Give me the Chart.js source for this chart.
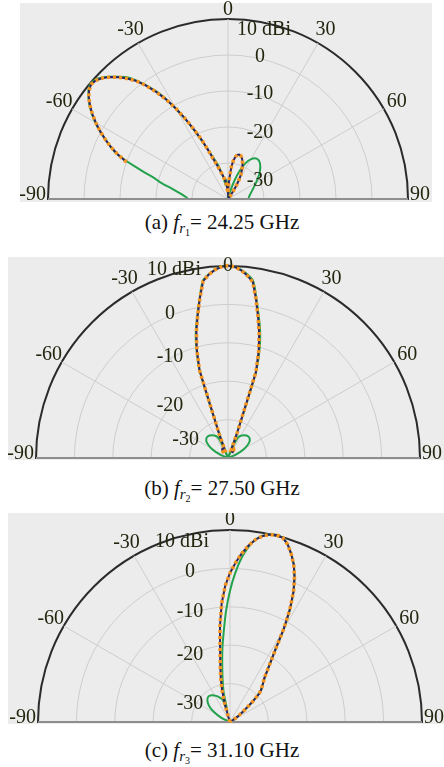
<!DOCTYPE html>
<html>
<head>
<meta charset="utf-8">
<title>Radiation patterns</title>
<script src="https://cdn.jsdelivr.net/npm/chart.js@4.4.1/dist/chart.umd.min.js"></script>
<style>
  html, body { margin: 0; padding: 0; background: #fff; }
  body { position: relative; width: 444px; height: 767px; overflow: hidden; font-family: "Liberation Serif", "DejaVu Serif", "Times New Roman", Times, serif; }
  .bg { position: absolute; background: #ececec; }
  .clip { position: absolute; left: 0; width: 444px; overflow: hidden; }
  .clip canvas { position: absolute; left: 0; top: 0; }
  .cap { position: absolute; left: 0; width: 444px; text-align: center; font-size: 21px; line-height: 24px; color: #111; white-space: nowrap; }
  .cap sub { font-size: 15px; vertical-align: -4px; line-height: 0; }
  .cap sub sub { font-size: 10px; vertical-align: -3px; }
</style>
</head>
<body>
<div class="bg" style="left:20px;top:3px;width:412px;height:199px"></div>
<div class="bg" style="left:8px;top:257px;width:436px;height:203px"></div>
<div class="bg" style="left:8px;top:513px;width:436px;height:211px"></div>
<div class="clip" style="top:0;height:200px"><canvas id="patA"></canvas></div>
<div class="clip" style="top:257px;height:202px"><canvas id="patB"></canvas></div>
<div class="clip" style="top:513px;height:210px"><canvas id="patC"></canvas></div>
<div class="cap" style="top:210px">(a) <i>f</i><sub><i>r</i><sub>1</sub></sub>= 24.25 GHz</div>
<div class="cap" style="top:476px">(b) <i>f</i><sub><i>r</i><sub>2</sub></sub>= 27.50 GHz</div>
<div class="cap" style="top:738px">(c) <i>f</i><sub><i>r</i><sub>3</sub></sub>= 31.10 GHz</div>
<script>
// radial ticks (dBi) and angle ticks (deg)
const radialTicks = [10, 0, -10, -20, -30];
const angleTicks = [-90, -60, -30, 0, 30, 60, 90];

// (a) 24.25 GHz
const simAngA = [-90, -88, -84, -80, -76, -74, -72, -68, -64, -60, -56, -52, -50, -48, -46, -44, -40, -38, -34, -32,
  -28, -24, -20, -16, -12, -10, -8, -4, -2, 0, 4, 10, 16, 18, 20, 22, 26, 30, 36, 42, 50, 58, 66, 74, 82, 90];
const simGainA = [-29, -28.5, -27, -24.5, -20.5, -18.5, -15, -6.8, -2, 2.6, 6.4, 9.2, 9.8, 9.6, 8.6, 7.2, 4.2, 2, -3.5, -7,
  -15, -22.5, -27.5, -30.5, -34, -36, -34.5, -35, -37, -39, -40, -40, -38, -36, -34, -32, -29, -27.2, -26.2, -26.7, -28.5, -30.6, -32.2, -33.3, -34, -34.5];
const measAngA = [-70, -68, -66, -64, -62, -60, -58, -56, -54, -52, -50, -48, -46, -44, -42, -40, -38, -36, -34, -32,
  -30, -28, -26, -24, -22, -20, -18, -16, -14, -12, -10, -8, -6, -4, -2, 0, 2, 4, 6, 8,
  10, 12, 14, 16, 18, 20, 22, 24, 26, 28, 30, 32, 34, 36, 38, 40];
const measGainA = [-10, -7, -4.3, -2, 0.3, 2.4, 4.4, 6.2, 7.8, 9, 9.6, 9.3, 8.4, 7.1, 5.5, 3.7, 1.7, -0.9, -4, -7.2,
  -10.8, -14.8, -18.6, -22, -25.5, -28.3, -30, -31.5, -32.6, -33.5, -34.3, -35, -36, -37, -37.8, -38.4, -37, -34, -31, -29.2,
  -28.1, -27.5, -27.3, -27.4, -27.8, -28.4, -29.2, -30.2, -31.3, -32.4, -34, -35.8, -37.5, -38.8, -39.6, -40];

// (b) 27.50 GHz
const simAngB = [-90, -72, -66, -60, -54, -48, -42, -36, -30, -26, -24, -22, -20, -18, -16, -14, -12, -10, -8, -6,
  -4, -2, 0, 2, 4, 6, 8, 10, 12, 14, 16, 18, 20, 22, 24, 26, 30, 36, 42, 48, 54, 60, 66, 72, 90];
const simGainB = [-40, -40, -37.5, -35, -33.2, -32.4, -32.3, -32.7, -33.3, -34, -35.5, -40, -34, -16.5, -10, -5.5, -1.8, 2.4, 6.7, 8.1,
  9.1, 9.8, 10.1, 9.8, 9.1, 8.1, 6.7, 2.4, -1.8, -5.5, -10, -16.5, -34, -40, -35.5, -34, -33.3, -32.7, -32.3, -32.4, -33.2, -35, -37.5, -40, -40];
const measAngB = [-40, -38, -36, -34, -32, -30, -28, -26, -24, -22, -20, -18, -16, -14, -12, -10, -8, -6, -4, -2,
  0, 2, 4, 6, 8, 10, 12, 14, 16, 18, 20, 22, 24, 26, 28, 30, 32, 34, 36, 38, 40];
const measGainB = [-38.3, -37.8, -37.5, -37.3, -37.2, -37.3, -37.5, -37.8, -38, -38, -33, -16, -10.5, -6, -2, 2.2, 6.5, 8, 9.1, 9.8,
  10.1, 9.8, 9, 7.8, 6.3, 2, -2.4, -6.5, -11, -16.5, -33, -38, -38, -37.8, -37.5, -37.3, -37.2, -37.3, -37.5, -37.8, -38.3];

// (c) 31.10 GHz
const simAngC = [-90, -70, -64, -58, -52, -46, -40, -34, -28, -22, -18, -14, -12, -10, -8, -6, -4, -2, 0, 2,
  4, 6, 8, 10, 12, 14, 16, 18, 20, 22, 24, 26, 28, 30, 32, 36, 40, 44, 48, 52, 56, 60, 90];
const simGainC = [-40, -40, -37.5, -35, -33, -31.8, -31.3, -31.6, -32.3, -33.2, -34, -37, -32, -29, -25.5, -21, -16.5, -11, -5.8, -1.2,
  2.8, 5.8, 8, 9.3, 10, 10.2, 9.9, 8.6, 6.6, 4.3, 1.3, -2.3, -6.8, -12, -17.5, -23.5, -26.5, -28.3, -32, -36, -38.3, -40, -40];
const measAngC = [-20, -18, -16, -14, -12, -10, -8, -6, -4, -2, 0, 2, 4, 6, 8, 10, 12, 14, 16, 18,
  20, 22, 24, 26, 28, 30, 32, 34, 36, 38, 40, 42, 44, 46, 48, 50, 52, 54, 56, 58, 60];
const measGainC = [-40, -38.5, -35, -31.5, -28.5, -25.5, -21.5, -15, -9, -4.5, -1.2, 1.5, 4, 6.2, 8, 9.2, 9.9, 10.2, 9.9, 8.6,
  6.6, 4.3, 1.3, -2.3, -6.8, -12, -17.5, -21, -23.5, -25.5, -26.5, -27.5, -28.3, -29.5, -32, -34.5, -36, -37.3, -38.3, -39.2, -40];

// radar spokes every 2 degrees, index 0 = boresight, clockwise
const ringLabels = [];
for (let i = 0; i < 180; i++) {
  const a = i * 2;
  ringLabels.push(a <= 180 ? a : a - 360);
}

function onRing(angles, gains) {
  const out = ringLabels.map(() => null);
  angles.forEach((a, k) => { out[ringLabels.indexOf(a)] = gains[k]; });
  return out;
}

const textColor = '#23260f';
const labelFont = '20px "Liberation Serif", "DejaVu Serif", "Times New Roman", serif';

const polarText = {
  id: 'polarText',
  // baseline goes over the traces so the closing chord of a loop never shows
  beforeDatasetDraw(chart, args) {
    if (args.index !== 0) return;
    const s = chart.scales.r;
    const ctx = chart.ctx;
    const p1 = s.getPointPosition(ringLabels.indexOf(-90), s.drawingArea);
    const p2 = s.getPointPosition(ringLabels.indexOf(90), s.drawingArea);
    ctx.save();
    ctx.strokeStyle = '#8e8e8e';
    ctx.lineWidth = 2;
    ctx.beginPath();
    ctx.moveTo(p1.x, s.yCenter);
    ctx.lineTo(p2.x, s.yCenter);
    ctx.stroke();
    ctx.restore();
  },
  afterDraw(chart, args, opts) {
    const s = chart.scales.r;
    const ctx = chart.ctx;
    const R = s.drawingArea;
    const cx = s.xCenter, cy = s.yCenter;
    ctx.save();
    ctx.font = labelFont;
    ctx.fillStyle = textColor;

    angleTicks.forEach(a => {
      const idx = ringLabels.indexOf(a);
      if (Math.abs(a) === 90) {
        const p = s.getPointPosition(idx, R + 2);
        ctx.textAlign = a < 0 ? 'right' : 'left';
        ctx.textBaseline = 'alphabetic';
        ctx.fillText(String(a), p.x, cy + 1);
      } else {
        const p = s.getPointPosition(idx, R + (a === 0 ? opts.zeroGap : 15));
        ctx.textAlign = 'center';
        ctx.textBaseline = 'middle';
        ctx.fillText(String(a), p.x, p.y);
      }
    });

    ctx.textAlign = 'center';
    ctx.textBaseline = 'middle';
    radialTicks.forEach(v => {
      const r = s.getDistanceFromCenterForValue(v);
      if (v === s.max) {
        const dx = opts.outerDx;
        const y = cy - Math.sqrt(r * r - dx * dx) + opts.outerDy;
        ctx.fillText(v + ' dBi', cx + dx, y);
      } else {
        const dx = Math.sign(opts.tickDx) * Math.min(Math.abs(opts.tickDx), r + 4);
        const h = Math.sqrt(Math.max(r * r - dx * dx, 0));
        ctx.fillText(String(v), cx + dx, cy - Math.max(h + 2, 18));
      }
    });
    ctx.restore();
  }
};

function drawPattern(id, panel, simAng, simGain, measAng, measGain) {
  const canvas = document.getElementById(id);
  const h = panel.cy + panel.R + 20;
  canvas.width = 444;
  canvas.height = h;
  canvas.style.width = '444px';
  canvas.style.height = h + 'px';
  const measured = onRing(measAng, measGain);

  new Chart(canvas, {
    type: 'radar',
    data: {
      labels: ringLabels,
      datasets: [
        {
          label: 'Measured',
          data: measured,
          borderColor: '#f5961f',
          borderWidth: 3.6,
          borderDash: [3, 3],
          pointRadius: 0,
          spanGaps: false,
          tension: 0,
          fill: false
        },
        {
          label: 'Measured trace',
          data: measured,
          borderColor: '#2d2462',
          borderWidth: 2,
          pointRadius: 0,
          spanGaps: false,
          tension: 0,
          fill: false
        },
        {
          label: 'Simulated',
          data: onRing(simAng, simGain),
          borderColor: '#23a24d',
          borderWidth: 2,
          pointRadius: 0,
          spanGaps: true,
          tension: 0.3,
          fill: false
        }
      ]
    },
    options: {
      responsive: false,
      animation: false,
      events: [],
      layout: {
        padding: {
          left: panel.cx - panel.R,
          right: 444 - panel.cx - panel.R,
          top: panel.cy - panel.R,
          bottom: h - panel.cy - panel.R
        }
      },
      plugins: {
        legend: { display: false },
        tooltip: { enabled: false },
        polarText: panel
      },
      scales: {
        r: {
          min: -40,
          max: 10,
          startAngle: 0,
          ticks: { display: false, stepSize: 10 },
          pointLabels: { display: false },
          grid: {
            circular: true,
            color: c => c.tick.value === 10 ? '#2b2b2b' : '#cdcdcd',
            lineWidth: c => c.tick.value === 10 ? 2 : 1
          },
          angleLines: {
            color: c => {
              const a = ringLabels[c.index];
              if (Math.abs(a) === 90) return '#8e8e8e';
              return Math.abs(a) < 90 && a % 30 === 0 ? '#cdcdcd' : 'rgba(0,0,0,0)';
            },
            lineWidth: c => {
              const a = ringLabels[c.index];
              if (Math.abs(a) === 90) return 2;
              return Math.abs(a) < 90 && a % 30 === 0 ? 1 : 0;
            }
          }
        }
      }
    },
    plugins: [polarText]
  });
}

drawPattern('patA', { cx: 228, cy: 199, R: 180, tickDx: 32, outerDx: 36, outerDy: 7, zeroGap: 9 },
  simAngA, simGainA, measAngA, measGainA);
drawPattern('patB', { cx: 228, cy: 201, R: 192, tickDx: -58, outerDx: -54, outerDy: -4, zeroGap: 0 },
  simAngB, simGainB, measAngB, measGainB);
drawPattern('patC', { cx: 230, cy: 209, R: 192, tickDx: -40, outerDx: -48, outerDy: 6, zeroGap: 10 },
  simAngC, simGainC, measAngC, measGainC);
</script>
</body>
</html>
